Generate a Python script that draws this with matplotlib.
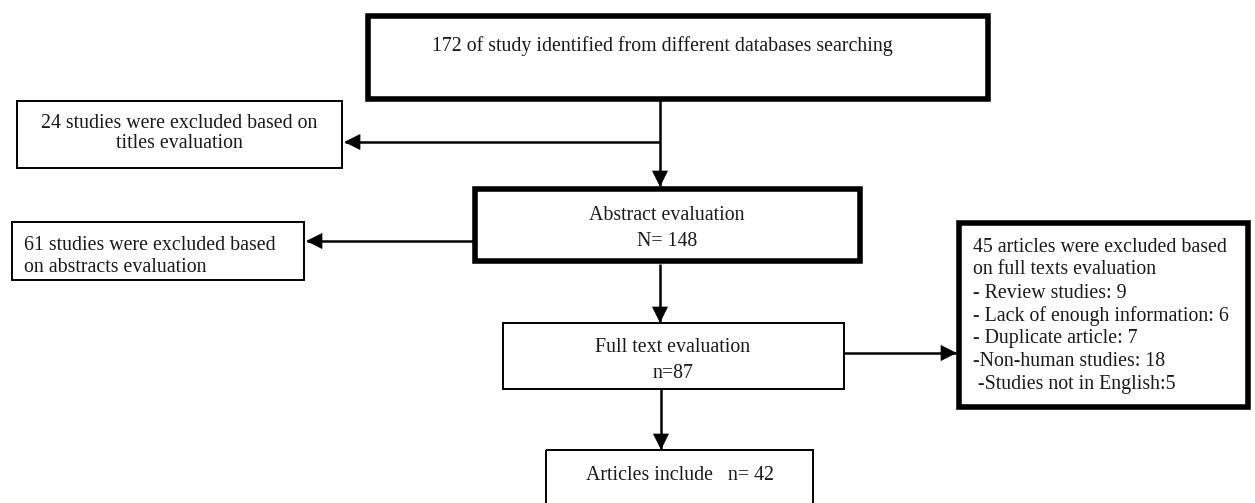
import matplotlib
matplotlib.use("Agg")
import matplotlib.pyplot as plt
from matplotlib.patches import Rectangle, Polygon

# ---- data (flow counts and labels) ----
identified = 172
excluded_titles = 24
abstract_n = 148
excluded_abstracts = 61
fulltext_n = 87
excluded_fulltext = 45
reason_labels = ["- Review studies", "- Lack of enough information", "- Duplicate article",
                 "-Non-human studies", " -Studies not in English"]
reason_counts = [9, 6, 7, 18, 5]
reason_seps = [": ", ": ", ": ", ": ", ":"]
included_n = 42

W, H = 1255, 503
fig = plt.figure(figsize=(W / 100, H / 100), dpi=100)
ax = fig.add_axes([0, 0, 1, 1])
ax.set_xlim(0, W)
ax.set_ylim(H, 0)
ax.axis("off")

FONT = dict(family="Liberation Serif", fontsize=14.3, color="#1a1a1a")
THICK = 4.0
THIN = 1.4


def box(x0, y0, x1, y1, lw):
    ax.add_patch(Rectangle((x0, y0), x1 - x0, y1 - y0, fill=False,
                           edgecolor="black", linewidth=lw, joinstyle="miter"))


def arrow(x0, y0, x1, y1, head_len=15, head_w=7.5):
    ax.plot([x0, x1], [y0, y1], color="black", lw=1.8, solid_capstyle="butt")
    dx, dy = x1 - x0, y1 - y0
    n = (dx * dx + dy * dy) ** 0.5
    ux, uy = dx / n, dy / n
    bx, by = x1 - ux * head_len, y1 - uy * head_len
    px, py = -uy, ux
    ax.add_patch(Polygon([(x1, y1), (bx + px * head_w, by + py * head_w),
                          (bx - px * head_w, by - py * head_w)],
                         closed=True, facecolor="black", edgecolor="black", lw=0.5))


def lines(x, ys, texts, ha):
    for y, t in zip(ys, texts):
        ax.text(x, y, t, ha=ha, va="center", **FONT)


# Box 1: identified
box(367.5, 15.5, 987.5, 98.5, THICK)
lines(432, [46], [f"{identified} of study identified from different databases searching"], "left")

# Box 2: titles exclusion
box(17, 101, 342, 168, THIN)
lines(179.5, [123, 144], [f"{excluded_titles} studies were excluded based on", "titles evaluation"], "center")

# Box 3: abstract evaluation
box(475, 189, 860, 261, THICK)
lines(667, [216, 241], ["Abstract evaluation", f"N= {abstract_n}"], "center")

# Box 4: abstract exclusion
box(12, 222, 304, 280, THIN)
lines(24, [246, 268], [f"{excluded_abstracts} studies were excluded based", "on abstracts evaluation"], "left")

# Box 5: full-text exclusion
box(959, 222.5, 1248, 407, THICK)
reason_lines = [f"{excluded_fulltext} articles were excluded based", "on full texts evaluation"]
reason_lines += [f"{l}{s}{c}" for l, s, c in zip(reason_labels, reason_seps, reason_counts)]
lines(973, [247, 269.5, 293, 316, 339, 362, 384], reason_lines, "left")

# Box 6: full text evaluation
box(503, 323, 844, 389, THIN)
lines(673, [348, 373], ["Full text evaluation", f"n={fulltext_n}"], "center")

# Box 7: included
box(546, 450, 813, 515, THIN)
lines(680, [476], [f"Articles include   n= {included_n}"], "center")

# Arrows / connectors
arrow(660, 98.5, 660, 186)
arrow(660, 142, 345, 142)
arrow(472.5, 241, 307, 241)
arrow(660, 264, 660, 322)
arrow(661, 389, 661, 449)
arrow(844, 353, 956, 353)

fig.savefig("out.png", dpi=100)
